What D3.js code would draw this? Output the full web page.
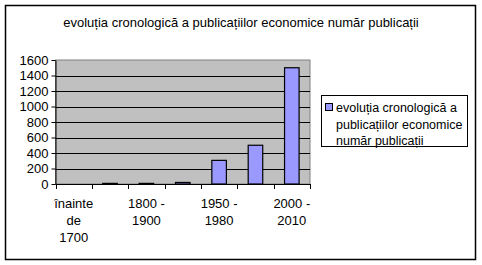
<!DOCTYPE html>
<html>
<head>
<meta charset="utf-8">
<script src="https://cdn.jsdelivr.net/npm/d3@7"></script>
<style>
  body { margin: 0; background: #fff; }
  text { font-family: "Liberation Sans", Arial, sans-serif; fill: #000; }
</style>
</head>
<body>
<div id="chart"></div>
<script>
// chart data
const categories = ["înainte de 1700", "1700 - 1800", "1800 - 1900", "1900 - 1950", "1950 - 1980", "1980 - 2000", "2000 - 2010"];
const values = [0, 8, 8, 20, 305, 500, 1500];
const yTicks = [0, 200, 400, 600, 800, 1000, 1200, 1400, 1600];
const seriesName = "evoluția cronologică a publicațiilor economice număr publicații";
const title = "evoluția cronologică a publicațiilor economice număr publicații";

const svg = d3.select("#chart")
  .append("svg")
  .attr("width", 482)
  .attr("height", 265);

// outer frame
svg.append("rect")
  .attr("x", 5.5).attr("y", 5.5)
  .attr("width", 470).attr("height", 254)
  .attr("fill", "#fff")
  .attr("stroke", "#000")
  .attr("stroke-width", 1.5);

svg.append("text")
  .attr("x", 241).attr("y", 27)
  .attr("text-anchor", "middle")
  .style("font-size", "13px")
  .text(title);

const plot = { left: 55.5, right: 310, top: 60, bottom: 184 };

const x = d3.scaleBand()
  .domain(categories)
  .range([plot.left, plot.right])
  .paddingInner(0.6)
  .paddingOuter(0.3);

const y = d3.scaleLinear()
  .domain([0, 1600])
  .range([plot.bottom, plot.top]);

// plot background
svg.append("rect")
  .attr("x", plot.left).attr("y", plot.top)
  .attr("width", plot.right - plot.left)
  .attr("height", plot.bottom - plot.top)
  .attr("fill", "#c0c0c0")
  .attr("stroke", "#808080");

// gridlines
svg.selectAll(".grid")
  .data(yTicks.filter(d => d > 0 && d < 1600))
  .enter()
  .append("line")
  .attr("x1", plot.left).attr("x2", plot.right)
  .attr("y1", d => Math.round(y(d)) + 0.5)
  .attr("y2", d => Math.round(y(d)) + 0.5)
  .attr("stroke", "#000");

// bars
svg.selectAll(".bar")
  .data(values)
  .enter()
  .append("rect")
  .attr("x", (d, i) => x(categories[i]))
  .attr("y", d => y(d))
  .attr("width", x.bandwidth())
  .attr("height", d => plot.bottom - y(d))
  .attr("fill", "#9999ff")
  .attr("stroke", "#000")
  .attr("stroke-width", 1.2);

// y axis
const yAxis = svg.append("g")
  .attr("transform", `translate(${plot.left},0)`)
  .call(d3.axisLeft(y).tickValues(yTicks).tickFormat(d3.format("d"))
    .tickSize(4).tickSizeOuter(0).tickPadding(3));
yAxis.select(".domain").attr("stroke", "#000");
yAxis.selectAll("line").attr("stroke", "#000");
yAxis.selectAll("text").style("font-size", "13px").attr("font-family", null);

// x axis with ticks at category boundaries
const xg = svg.append("g");
xg.append("line")
  .attr("x1", plot.left).attr("x2", plot.right)
  .attr("y1", plot.bottom + 0.5).attr("y2", plot.bottom + 0.5)
  .attr("stroke", "#000");
const step = x.step();
xg.selectAll(".xt")
  .data(d3.range(categories.length + 1))
  .enter()
  .append("line")
  .attr("x1", i => Math.round(plot.left + i * step) + 0.5)
  .attr("x2", i => Math.round(plot.left + i * step) + 0.5)
  .attr("y1", plot.bottom).attr("y2", plot.bottom + 5)
  .attr("stroke", "#000");

// category labels, every other one shown
const labelLines = {
  "înainte de 1700": ["înainte", "de", "1700"],
  "1800 - 1900": ["1800 -", "1900"],
  "1950 - 1980": ["1950 -", "1980"],
  "2000 - 2010": ["2000 -", "2010"]
};
categories.forEach((c, i) => {
  if (i % 2 !== 0) return;
  const t = svg.append("text")
    .attr("text-anchor", "middle")
    .style("font-size", "13px");
  (labelLines[c] || [c]).forEach((ln, k) => {
    t.append("tspan")
      .attr("x", x(c) + x.bandwidth() / 2)
      .attr("y", 208 + k * 17)
      .text(ln);
  });
});

// legend
svg.append("rect")
  .attr("x", 321.5).attr("y", 95.5)
  .attr("width", 146).attr("height", 51)
  .attr("fill", "#fff")
  .attr("stroke", "#000");
svg.append("rect")
  .attr("x", 325.5).attr("y", 103.5)
  .attr("width", 7).attr("height", 7)
  .attr("fill", "#9999ff")
  .attr("stroke", "#000");
const legendLines = ["evoluția cronologică a", "publicațiilor economice", "număr publicații"];
const lt = svg.append("text").style("font-size", "12.5px");
legendLines.forEach((ln, k) => {
  lt.append("tspan")
    .attr("x", 336)
    .attr("y", 112 + k * 16.5)
    .text(ln);
});
</script>
</body>
</html>
